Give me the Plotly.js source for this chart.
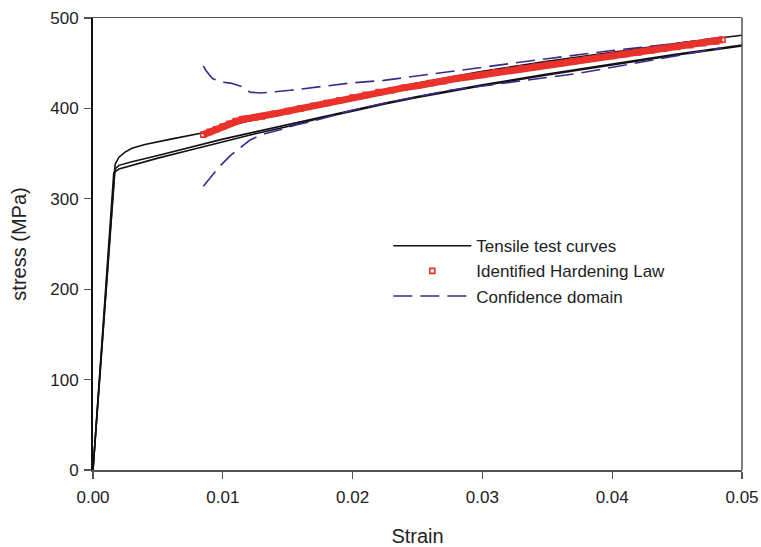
<!DOCTYPE html>
<html>
<head>
<meta charset="utf-8">
<script src="https://cdn.plot.ly/plotly-3.0.1.min.js"></script>
<style>html,body{margin:0;padding:0;background:#fff;}#chart{width:761px;height:547px;}</style>
</head>
<body>
<div id="chart"></div>
<script>
// Tensile test curves (strain, stress MPa)
const tensile1X = [0, 0.0017, 0.002, 0.0025, 0.003, 0.004, 0.006, 0.0085, 0.01, 0.0125, 0.015, 0.0175, 0.02, 0.0225, 0.025, 0.03, 0.035, 0.04, 0.045, 0.05];
const tensile1Y = [0, 338, 346, 352, 356, 360, 366, 373, 379, 388, 397, 405, 413, 421, 428, 441, 452, 462, 472, 481];
const tensile2X = [0, 0.0017, 0.002, 0.003, 0.005, 0.0075, 0.01, 0.0125, 0.015, 0.0175, 0.02, 0.0225, 0.025, 0.03, 0.035, 0.04, 0.045, 0.05];
const tensile2Y = [0, 333, 337, 341, 348, 357, 366, 374, 382, 390, 398, 406, 413, 426, 438, 449, 460, 470];
const tensile3X = [0, 0.0016, 0.002, 0.003, 0.005, 0.0075, 0.01, 0.0125, 0.015, 0.0175, 0.02, 0.0225, 0.025, 0.03, 0.035, 0.04, 0.045, 0.05];
const tensile3Y = [0, 329, 333, 337, 345, 354, 363, 372, 380, 389, 397, 405, 412, 425, 437, 448, 459, 469];

// Identified hardening law
const lawX = [0.0085, 0.009, 0.0095, 0.01, 0.0105, 0.011, 0.0115, 0.012, 0.0125, 0.013, 0.014, 0.015, 0.016, 0.017, 0.018, 0.019, 0.02, 0.021, 0.022, 0.023, 0.024, 0.025, 0.026, 0.027, 0.028, 0.029, 0.03, 0.031, 0.032, 0.033, 0.034, 0.035, 0.036, 0.037, 0.038, 0.039, 0.04, 0.041, 0.042, 0.043, 0.044, 0.045, 0.046, 0.047, 0.048, 0.0485];
const lawY = [371, 374, 377, 380, 383, 386, 388, 389, 390, 391, 394, 397, 400, 403, 406, 409, 412, 415, 418, 420, 423, 425, 428, 430, 433, 435, 437, 440, 442, 444, 446, 448, 450, 452, 454, 456, 458, 460, 462, 464, 466, 468, 470, 472, 474, 476];

// Confidence domain bounds
const upperX = [0.0085, 0.0087, 0.0092, 0.01, 0.0106, 0.0115, 0.0121, 0.0129, 0.0152, 0.0198, 0.0224, 0.025, 0.03, 0.035, 0.04, 0.045, 0.0485];
const upperY = [447, 442, 433, 429, 428, 424, 418, 417, 420, 428, 431, 436, 446, 455, 464, 472, 479];
const lowerX = [0.0085, 0.0089, 0.0097, 0.0106, 0.0121, 0.013, 0.0146, 0.0157, 0.0167, 0.02, 0.0229, 0.0275, 0.0375, 0.0468, 0.0485];
const lowerY = [314, 321, 335, 348, 365, 371, 377, 382, 385, 398, 407, 420, 439, 463, 467];

const xTicks = [0, 0.01, 0.02, 0.03, 0.04, 0.05];
const xTickText = ['0.00', '0.01', '0.02', '0.03', '0.04', '0.05'];
const yTicks = [0, 100, 200, 300, 400, 500];

const black = '#111111';
const red = '#e8322b';
const purple = '#3b2a8c';
const dashStyle = '19px,8px';

const traces = [
  {x: tensile1X, y: tensile1Y, mode: 'lines', name: 'Tensile test curves', line: {color: black, width: 1.6}, showlegend: true, legendrank: 1},
  {x: tensile2X, y: tensile2Y, mode: 'lines', name: 'Tensile test curves', line: {color: black, width: 1.6}, showlegend: false},
  {x: tensile3X, y: tensile3Y, mode: 'lines', name: 'Tensile test curves', line: {color: black, width: 1.6}, showlegend: false},
  {x: upperX, y: upperY, mode: 'lines', name: 'Confidence domain', line: {color: purple, width: 1.6, dash: dashStyle}, showlegend: true, legendrank: 3},
  {x: lowerX, y: lowerY, mode: 'lines', name: 'Confidence domain', line: {color: purple, width: 1.6, dash: dashStyle}, showlegend: false},
  {x: lawX, y: lawY, mode: 'lines', name: 'band', line: {color: red, width: 7}, showlegend: false, hoverinfo: 'skip'},
  {x: lawX, y: lawY, mode: 'markers', name: 'Identified Hardening Law', marker: {symbol: 'square-open', size: 5, color: red, line: {color: red, width: 1.6}}, showlegend: true, legendrank: 2}
];

const layout = {
  width: 761, height: 547,
  margin: {l: 93, r: 19, t: 18, b: 77},
  paper_bgcolor: '#ffffff', plot_bgcolor: '#ffffff',
  font: {family: 'Liberation Sans, Arial, sans-serif', color: '#222222', size: 17},
  showlegend: true,
  legend: {
    x: 0.455, y: 0.535, xanchor: 'left', yanchor: 'top',
    bgcolor: 'rgba(0,0,0,0)', borderwidth: 0,
    font: {size: 17, color: '#222222'},
    itemwidth: 78, tracegroupgap: 0
  },
  xaxis: {
    range: [0, 0.05], tickvals: xTicks, ticktext: xTickText,
    showgrid: false, zeroline: false,
    showline: true, linecolor: '#555555', linewidth: 1.5, mirror: true,
    ticks: 'outside', ticklen: 7, tickwidth: 1.2, tickcolor: '#555555',
    ticklabelstandoff: 4,
    tickfont: {size: 17, color: '#222222'},
    title: {text: 'Strain', font: {size: 20, color: '#222222'}, standoff: 24}
  },
  yaxis: {
    range: [0, 500], tickvals: yTicks,
    showgrid: false, zeroline: false,
    showline: true, linecolor: '#111111', linewidth: 2,
    ticks: 'outside', ticklen: 7, tickwidth: 1.2, tickcolor: '#555555',
    ticklabelstandoff: 2,
    tickfont: {size: 17, color: '#222222'},
    title: {text: 'stress (MPa)', font: {size: 20, color: '#222222'}, standoff: 18}
  },
  shapes: [
    {type: 'line', xref: 'paper', yref: 'paper', x0: 1, x1: 1, y0: 0, y1: 1, line: {color: '#555555', width: 1.5}}
  ]
};

Plotly.newPlot('chart', traces, layout, {displayModeBar: false, staticPlot: true});
</script>
</body>
</html>
